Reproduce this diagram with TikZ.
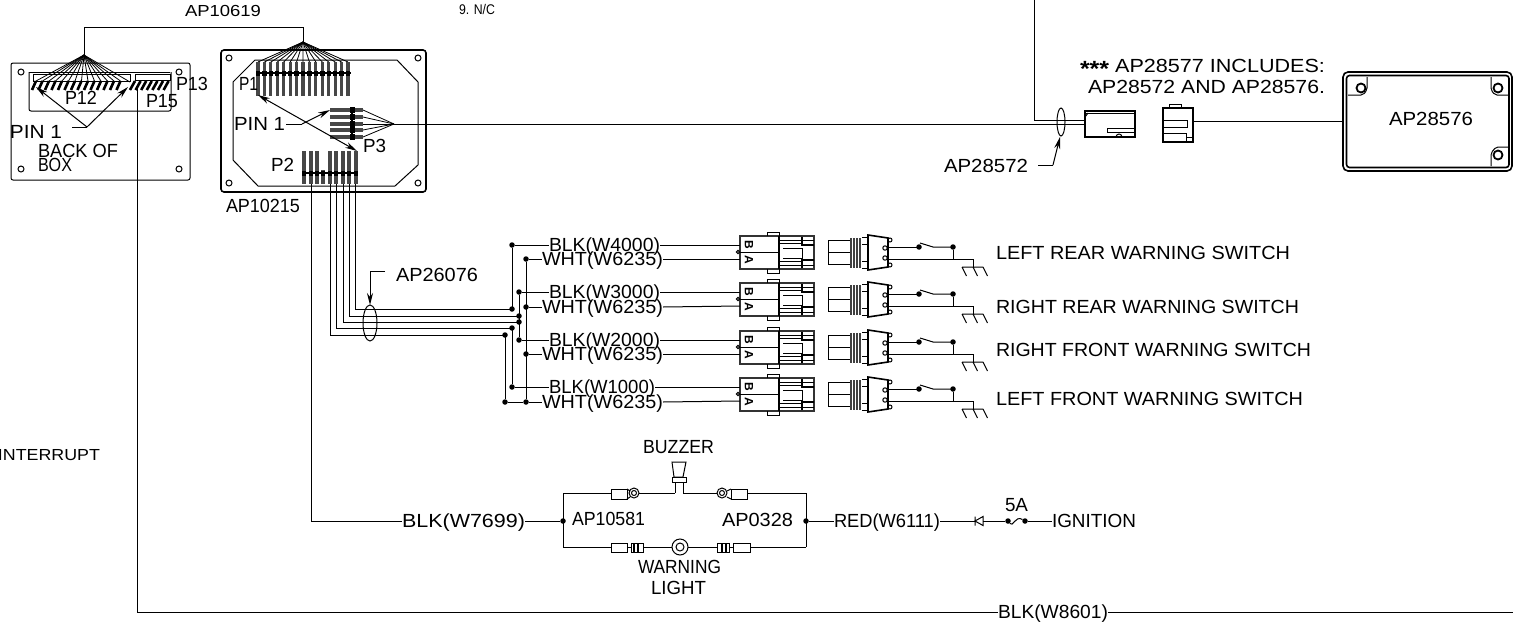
\documentclass[tikz,border=0pt]{standalone}
\usepackage{fontspec}
\usepackage{graphicx}
\setmainfont{Liberation Sans}
\usetikzlibrary{arrows.meta}
\newcommand\WT[2]{\resizebox{#1pt}{\height}{#2}}
\tikzset{
  wire/.style={line width=1pt,black},
  thin wire/.style={line width=0.8pt,black},
  heavy/.style={line width=1.6pt,black},
  lbl/.style={font=\fontsize{19}{19}\selectfont,inner sep=0pt,outer sep=0pt,anchor=west,text height=13.6pt,text depth=0pt},
  small lbl/.style={font=\fontsize{16}{16}\selectfont,inner sep=0pt,outer sep=0pt,anchor=west,text height=11.5pt,text depth=0pt},
  jdot/.style={circle,fill=black,inner sep=0pt,minimum size=5.5pt},
  tooth/.style={line width=3.2pt,black!72},
  arrowed/.style={wire,-{Stealth[length=12pt,width=6pt]}},
  conn/.pic={
    \coordinate (w1) at (0,-7);
    \coordinate (w2) at (0,7);
    \draw[line width=2pt,black!80] (0,-16) rectangle (74,17);
    \draw[heavy] (39,-16) -- (39,17);
    \draw[wire] (0,0) -- (39,0);
    \draw[wire] (27,-16) -- (27,-20) -- (39,-20) -- (39,-16) (27,17) -- (27,21) -- (39,21) -- (39,17);
    \draw[wire] (39,-12) -- (74,-12) (39,13) -- (74,13) (39,-9) -- (62,-9) (39,9) -- (62,9);
    \draw[wire] (43,-4) -- (62,-4) -- (62,6) -- (43,6);
    \draw[heavy] (62,-15) -- (62,-7) -- (74,-7) (62,16) -- (62,8) -- (74,8);
    \draw[wire] (-2,0) circle (1.6);
    \node[font=\fontsize{12}{12}\bfseries\selectfont,rotate=-90,inner sep=0pt] (tb) at (9,-7.5) {B};
    \node[font=\fontsize{12}{12}\bfseries\selectfont,rotate=-90,inner sep=0pt] (ta) at (9,8) {A};
    \draw[wire] (88,-12) rectangle (110,12) (88,0) -- (110,0);
    \fill[black!75] (110,-14) rectangle (122,16);
    \foreach \rx in {112,115,118,121} \draw[line width=0.5pt,white] (\rx,-14) -- (\rx,16);
    \draw[wire] (122,-8) -- (128,-8) (122,-15) -- (128,-15) (122,9) -- (128,9) (122,16) -- (128,16);
    \draw[heavy] (128,-17) -- (148,-14) -- (148,15) -- (128,18) -- cycle;
    \foreach \cy in {-12,13} \draw[wire] (150,\cy) circle (2);
    \draw[wire] (145,-4) circle (2.2) (145,6) circle (2.2);
    \coordinate (sa) at (179,-5);
    \coordinate (sb) at (213,-5);
    \coordinate (sg) at (233,7.5);
    \draw[wire] (148,-5) -- (sa);
    \draw[wire] (180,-9) -- (193,-5) -- (sb);
    \node[jdot] (ds1) at (sa) {};
    \node[jdot] (ds2) at (sb) {};
    \draw[wire] (148,7.5) -- (sg) -- (233,15) (ds2) -- (213,7.5);
    \draw[wire] (222,15) -- (243,15) (222,15) -- (226.5,24) (233,15) -- (237.5,24) (243,15) -- (247.5,24);
  }
}
\begin{document}
\begin{tikzpicture}[x=1pt,y=-1pt]
\useasboundingbox (0,0) rectangle (1513,624);
\clip (0,0) rectangle (1513,624);
\fill[white] (0,0) rectangle (1513,624);

% ---------- free texts
\node[small lbl] (ttop) at (185,11) {\WT{76}{AP10619}};
\node[small lbl,font=\fontsize{14}{14}\selectfont,text height=10pt] (tnc) at (459,9) {\WT{36}{9. N/C}};
\node[small lbl] (tint) at (-2,455) {\WT{102}{INTERRUPT}};

% ---------- back of box
\draw[wire,rounded corners=2pt] (11,63) rectangle (190,180);
\draw[wire] (21,72) circle (3) (179,72) circle (3) (21,169) circle (3) (179,169) circle (3);
\draw[wire,rounded corners=2pt] (29,72) -- (29,111) -- (171,111) -- (171,72);
\draw[thin wire] (29,72) -- (170,72);
\draw[thin wire] (33,74) rectangle (130,81);
\draw[thin wire] (135,74) rectangle (170,80);
\coordinate (apexa) at (84,55);
\coordinate (apexb) at (303,42);
\foreach \i in {0,1,...,13} {
  \draw[thin wire] (apexa) -- ({36+\i*6.5},81);
  \draw[line width=2.6pt] ({36+\i*6.5},81) -- ({32+\i*6.5},90);
}
\draw[thin wire] (apexa) -- (130,82);
\foreach \i in {0,1,...,6} \draw[line width=2.6pt] ({135+\i*5.6},81) -- ({130+\i*5.6},90);
\node[lbl] (p12) at (65,98) {\WT{32}{P12}};
\node[lbl] (p13) at (176,84) {\WT{32}{P13}};
\node[lbl] (p15) at (146,101) {\WT{32}{P15}};
\node[lbl] (pina) at (10,132) {\WT{52}{PIN 1}};
\coordinate (pinaj) at (87,127);
\coordinate (pinae) at (72,127);
\draw[wire] (pinae) -- (pinaj);
\draw[arrowed] (pinaj) -- (36,87);
\draw[arrowed] (pinaj) -- (128,87);
\node[lbl] (back) at (38,151) {\WT{80}{BACK OF}};
\node[lbl] (boxt) at (38,165) {\WT{34}{BOX}};

% ---------- AP10619
\draw[wire] (apexa) -- (84,27) -- (303,27) -- (apexb);

% ---------- main box
\draw[heavy,rounded corners=3pt] (221,50) rectangle (426,192);
\draw[wire] (233,82) -- (255,60) -- (397,60) -- (418,82) -- (418,165) -- (395,186) -- (258,186) -- (233,160) -- cycle;
\draw[wire] (229,58) circle (3) (418,58) circle (3) (229,183) circle (3) (418,183) circle (3);
\foreach \i in {0,1,...,14} {
  \draw[thin wire] (apexb) -- ({258+\i*6.43},62);
  \draw[tooth] ({258+\i*6.43},62) -- ({258+\i*6.43},96);
}
\draw[line width=1.6pt] (256,73) -- (351,73);
\foreach \i in {0,1,...,14} \fill ({258+\i*6.43-2.2},70.5) rectangle +(4.4,5);
\node[lbl] (p1) at (239,84) {\WT{19}{P1}};
\node[lbl] (pinb) at (234,124) {\WT{51}{PIN 1}};
\coordinate (apexc) at (394,124);
\foreach \ty in {110,117,124,130,137} {
  \draw[thin wire] (apexc) -- (363,\ty);
  \draw[tooth] (330,\ty) -- (363,\ty);
  \fill (349.5,{\ty-3}) rectangle +(5,6);
}
\draw[line width=1.6pt] (352,108) -- (352,139);
\coordinate (pinbj) at (302,124);
\draw[wire] (pinb.east) ++(1,0) -- (pinbj);
\draw[arrowed] (pinbj) -- (330,110);
\draw[wire,{Stealth[length=12pt,width=6pt]}-{Stealth[length=12pt,width=6pt]}] (258,95) -- (357,151);
\node[lbl] (p3) at (363,146) {\WT{23}{P3}};
\node[lbl] (p2) at (271,165) {\WT{23}{P2}};
\foreach \tx/\ts in {304/151,311/151,317/151,323/170,330/151,336/151,343/151,349/151,356/151}
  \draw[tooth] (\tx,\ts) -- (\tx,184);
\draw[line width=1.6pt] (302,173) -- (358,173);
\foreach \tx in {304,311,317,323,330,336,343,349,356} \fill ({\tx-2.4},170.5) rectangle +(4.8,5);
\node[lbl] (ap215) at (226,206) {\WT{74}{AP10215}};

% ---------- long wires
\coordinate (ja) at (137,88);
\node[lbl] (w8601) at (998,612) {\WT{110}{BLK(W8601)}};
\coordinate (endr) at (1513,612);
\draw[wire] (ja) -- (137,612) -- (w8601.west);
\draw[wire] (w8601.east) -- (endr);

\coordinate (topw) at (1034,0);
\draw[wire] (apexc) -- (1085,124);
\draw[wire] (topw) -- (1034,120) -- (1085,120);
\draw[wire] (1061,122) ellipse (4 and 14);
\node[lbl] (ap572) at (944,166) {\WT{84}{AP28572}};
\coordinate (leada) at (1053,165);
\draw[wire] (1038,165) -- (leada);
\draw[arrowed] (leada) -- (1060,137);
\draw[heavy] (1085,111) rectangle (1135,137);
\draw[wire] (1085,113.5) -- (1135,113.5) (1107,128) rectangle (1135,132);
\draw[wire] (1085,117) -- (1088,113);
\draw[wire] (1116,137) arc (180:360:3);
\draw[heavy] (1163,108) rectangle (1193,142);
\draw[wire] (1169,108) -- (1169,104) -- (1181,104) -- (1181,108);
\draw[wire] (1163,120) -- (1187,120) -- (1187,127) -- (1163,127) (1163,133) -- (1186,133) -- (1186,142);
\draw[wire] (1186,137) -- (1193,137);
\node[lbl] (t577) at (1080,66) {\WT{245}{\raisebox{-4pt}{\bfseries\fontsize{22}{22}\selectfont ***} AP28577 INCLUDES:}};
\node[lbl] (t572) at (1088,87) {\WT{237}{AP28572 AND AP28576.}};
% AP28576 box
\draw[heavy,rounded corners=5pt] (1343,72) rectangle (1512,171);
\draw[heavy,rounded corners=3pt] (1346.5,75.5) rectangle (1509,167.5);
\draw[wire] (1193,121) -- (1343,121);
\draw[wire,rounded corners=2pt] (1348,95) -- (1363,95) -- (1367,90) -- (1367,77);
\draw[wire,rounded corners=2pt] (1491,77) -- (1491,90) -- (1495,95) -- (1509,95);
\draw[wire,rounded corners=2pt] (1509,147) -- (1496,147) -- (1491,153) -- (1491,166);
\draw[line width=1.8pt] (1361,88) circle (4.5) (1498,88) circle (4.5) (1498,155) circle (4.5);
\node[lbl] (t576) at (1389,119) {\WT{84}{AP28576}};

% ---------- harness AP26076
\draw[wire] (311,184) -- (311,521);
\coordinate (j1) at (512,309);
\coordinate (j2) at (519,316);
\coordinate (j3) at (519,322);
\coordinate (j4) at (512,328);
\coordinate (j5) at (505,335);
\draw[wire] (355,184) -- (355,309) -- (j1);
\draw[wire] (349,184) -- (349,316) -- (j2);
\draw[wire] (343,184) -- (343,322) -- (j3);
\draw[wire] (336,184) -- (336,328) -- (j4);
\draw[wire] (330,184) -- (330,335) -- (j5);
\draw[wire] (370,323) ellipse (7 and 18);
\node[lbl] (ap076) at (396,275) {\WT{82}{AP26076}};
\coordinate (leadb) at (370,271);
\draw[wire] (385,271) -- (leadb);
\draw[arrowed] (leadb) -- (370,305);

\foreach \nm/\bx/\by/\bw/\bt in {a/549/245/111/BLK(W4000),b/549/292/111/BLK(W3000),c/549/340/111/BLK(W2000),d/549/387/106/BLK(W1000)} {
  \node[lbl] (b\nm) at (\bx,\by) {\WT{\bw}{\bt}};
}
\foreach \nm/\wy in {a/259,b/307,c/354,d/402} {
  \node[lbl] (w\nm) at (542,\wy) {\WT{121}{WHT(W6235)}};
}
\pic (ca) at (740,252) {conn};
\pic (cb) at (740,299) {conn};
\pic (cc) at (740,347) {conn};
\pic (cd) at (740,394) {conn};
\foreach \nm in {a,b,c,d} {
  \draw[wire] (b\nm.east) -- (c\nm w1);
  \draw[wire] (w\nm.east) -- (c\nm w2);
}
\node[jdot] (n1) at (512,245) {};
\node[jdot] (n2) at (519,292) {};
\node[jdot] (n3) at (519,340) {};
\node[jdot] (n4) at (512,387) {};
\node[jdot] (n5) at (505,402) {};
\node[jdot] (n6) at (526,259) {};
\node[jdot] (n7) at (526,307) {};
\node[jdot] (n8) at (526,354) {};
\node[jdot] (n9) at (526,402) {};
\node[jdot] (d1) at (j1) {};
\node[jdot] (d2) at (j2) {};
\node[jdot] (d3) at (j3) {};
\node[jdot] (d4) at (j4) {};
\node[jdot] (d5) at (j5) {};
\draw[wire] (n1) -- (j1) (n2) -- (n3) (j4) -- (n4) (j5) -- (n5) (n6) -- (n9) (n5) -- (n9);
\draw[wire] (n1) -- (ba.west) (n2) -- (bb.west) (n3) -- (bc.west) (n4) -- (bd.west);
\draw[wire] (n6) -- (wa.west) (n7) -- (wb.west) (n8) -- (wc.west) (n9) -- (wd.west);

\node[lbl] (s1) at (996,253) {\WT{294}{LEFT REAR WARNING SWITCH}};
\node[lbl] (s2) at (996,307) {\WT{303}{RIGHT REAR WARNING SWITCH}};
\node[lbl] (s3) at (996,350) {\WT{315}{RIGHT FRONT WARNING SWITCH}};
\node[lbl] (s4) at (996,399) {\WT{307}{LEFT FRONT WARNING SWITCH}};

% ---------- lamp / buzzer
\node[lbl] (tbz) at (643,447) {\WT{71}{BUZZER}};
\draw[wire] (672,462) -- (686,462) -- (683,477) -- (674,477) -- cycle;
\draw[wire] (672,477) rectangle (686,482);
\draw[wire] (675,482) -- (675,493) (683,482) -- (683,493);
\node[jdot] (jl) at (563,521) {};
\node[jdot] (jr) at (806,521) {};
\draw[wire] (563,547) -- (563,493) -- (611,493);
\draw[wire] (806,547) -- (806,493) -- (747,493);
\draw[wire] (611,489) rectangle (627,499);
\draw[wire] (627,489) -- (630,491) (627,499) -- (630,497);
\draw[wire] (634,493) circle (5) (634,493) circle (2.5);
\draw[wire] (639,493) -- (675,493);
\draw[wire] (683,493) -- (717,493);
\draw[wire] (722,493) circle (5) (722,493) circle (2.5);
\draw[wire] (731,489) rectangle (747,499);
\draw[wire] (731,489) -- (727,491) (731,499) -- (727,497);
\draw[wire] (563,547) -- (611,547);
\draw[wire] (611,543) rectangle (627,552);
\draw[wire] (627,547) -- (631,547);
\draw[wire] (631,543) rectangle (643,552);
\draw[line width=1.6pt] (634,543) -- (634,552) (638,543) -- (638,552);
\draw[wire] (643,547) -- (672,547);
\draw[wire] (680,547) circle (8) (680,547) circle (4);
\draw[wire] (688,547) -- (717,547);
\draw[wire] (717,543) rectangle (729,552);
\draw[line width=1.6pt] (722,543) -- (722,552) (726,543) -- (726,552);
\draw[wire] (729,547) -- (733,547);
\draw[wire] (733,543) rectangle (750,552);
\draw[wire] (750,547) -- (806,547);
\node[lbl] (t581) at (572,519) {\WT{73}{AP10581}};
\node[lbl] (t328) at (722,520) {\WT{71}{AP0328}};
\node[lbl] (twl) at (638,567) {\WT{83}{WARNING}};
\node[lbl] (tlg) at (651,588) {\WT{55}{LIGHT}};
\node[lbl] (w7699) at (402,521) {\WT{123}{BLK(W7699)}};
\draw[wire] (311,521) -- (w7699.west) (w7699.east) -- (jl);
\node[lbl] (w6111) at (834,521) {\WT{106}{RED(W6111)}};
\draw[wire] (jr) -- (w6111.west);
\coordinate (da) at (975,521);
\draw[wire] (w6111.east) -- (da);
\draw[wire] (975,516.5) -- (975,525.5) (983,516.5) -- (975,521) -- (983,525.5) -- cycle;
\node[jdot] (fa) at (1008,521) {};
\node[jdot] (fb) at (1025,521) {};
\draw[wire] (983,521) -- (fa);
\draw[wire] (fa) .. controls (1013,528) and (1015,515) .. (fb);
\node[lbl] (ign) at (1052,521) {\WT{84}{IGNITION}};
\draw[wire] (fb) -- (ign.west);
\node[lbl] (t5a) at (1005,505) {\WT{23}{5A}};
\end{tikzpicture}
\end{document}
